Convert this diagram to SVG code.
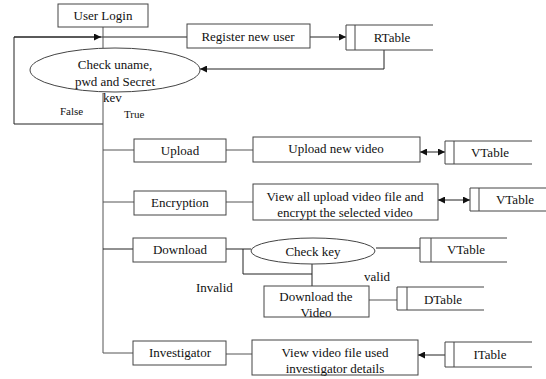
<svg xmlns="http://www.w3.org/2000/svg" width="546" height="379" viewBox="0 0 546 379">
<defs>
<marker id="ah" viewBox="0 0 8 8" refX="8" refY="4" markerWidth="7" markerHeight="7" markerUnits="userSpaceOnUse" orient="auto-start-reverse">
<path d="M0,0 L8,4 L0,8 Z" fill="#111"/>
</marker>
</defs>
<style>
.box{fill:#fff;stroke:#444;stroke-width:1}
.tbl{fill:none;stroke:#444;stroke-width:1}
.ln{fill:none;stroke:#555;stroke-width:1}
.dk{fill:none;stroke:#222;stroke-width:1}
text{font-family:"Liberation Serif","Times New Roman",serif;font-size:13px;fill:#111}
.c{text-anchor:middle}
.s{font-size:11px}
</style>
<g id="connectors">
<path class="dk" d="M14,37 L187,37"/>
<path class="dk" d="M14,37 L101,37" marker-end="url(#ah)"/>
<path class="dk" d="M14,37 L14,124 L103,124"/>
<path class="ln" d="M103,27 L103,48"/>
<path class="ln" d="M103,93 L103,353"/>
<path class="dk" d="M310,37 L346,37" marker-end="url(#ah)"/>
<path class="dk" d="M384,50 L384,69 L200,69" marker-end="url(#ah)"/>
<path class="ln" d="M103,150 L134,150"/>
<path class="ln" d="M226,150 L253,150"/>
<path class="dk" d="M420,152 L445,152" marker-start="url(#ah)" marker-end="url(#ah)"/>
<path class="ln" d="M103,202 L134,202"/>
<path class="ln" d="M226,202 L253,202"/>
<path class="dk" d="M438,200 L470,200" marker-start="url(#ah)" marker-end="url(#ah)"/>
<path class="dk" d="M103,249 L133,249"/>
<path class="dk" d="M226,249 L251,249"/>
<path class="dk" d="M376,248 L420,248"/>
<path class="dk" d="M243,249 L243,274 L312,274"/>
<path class="dk" d="M312,264 L312,286"/>
<path class="ln" d="M369,300 L397,300"/>
<path class="ln" d="M103,353 L133,353"/>
<path class="ln" d="M226,354 L252,354"/>
<path class="dk" d="M445,355 L418,355" marker-end="url(#ah)"/>
</g>
<g id="user-login"><rect class="box" x="58" y="4" width="90" height="23"/><text class="c" x="103" y="20">User Login</text></g>
<g id="check-uname"><ellipse class="box" cx="115" cy="70" rx="85" ry="22"/><text class="c" x="115" y="69">Check uname,</text><text class="c" x="115" y="86">pwd and Secret</text><text x="103" y="102">kev</text></g>
<g id="register"><rect class="box" x="187" y="24" width="123" height="24"/><text class="c" x="248" y="41">Register new user</text></g>
<g id="rtable"><path class="tbl" d="M433,25 L346,25 L346,50 L433,50 M355,25 L355,50"/><text class="c" x="392" y="42">RTable</text></g>
<g id="false-label"><text class="s" x="60" y="115">False</text></g>
<g id="true-label"><text class="s" x="124" y="118">True</text></g>
<g id="upload"><rect class="box" x="134" y="139" width="92" height="23"/><text class="c" x="180" y="155">Upload</text></g>
<g id="upload-new"><rect class="box" x="253" y="137" width="167" height="25"/><text class="c" x="336" y="153">Upload new video</text></g>
<g id="vtable1"><path class="tbl" d="M532,141 L445,141 L445,164 L532,164 M454,141 L454,164"/><text class="c" x="490" y="157">VTable</text></g>
<g id="encryption"><rect class="box" x="134" y="191" width="92" height="24"/><text class="c" x="180" y="207">Encryption</text></g>
<g id="view-all"><rect class="box" x="253" y="184" width="185" height="36"/><text class="c" x="345" y="201">View all upload video file and</text><text class="c" x="345" y="217">encrypt the selected video</text></g>
<g id="vtable2"><path class="tbl" d="M546,188 L470,188 L470,211 L546,211 M479,188 L479,211"/><text class="c" x="515" y="204">VTable</text></g>
<g id="download"><rect class="box" x="133" y="238" width="93" height="24"/><text class="c" x="180" y="254">Download</text></g>
<g id="check-key"><ellipse class="box" cx="313" cy="251" rx="62" ry="13"/><text class="c" x="313" y="256">Check key</text></g>
<g id="vtable3"><path class="tbl" d="M507,238 L420,238 L420,262 L507,262 M431,238 L431,262"/><text class="c" x="466" y="254">VTable</text></g>
<g id="valid-label"><text x="364" y="281">valid</text></g>
<g id="invalid-label"><text x="196" y="292">Invalid</text></g>
<g id="download-video"><rect class="box" x="264" y="286" width="105" height="31"/><text class="c" x="316" y="301">Download the</text><text class="c" x="316" y="317">Video</text></g>
<g id="dtable"><path class="tbl" d="M484,287 L397,287 L397,310 L484,310 M407,287 L407,310"/><text class="c" x="443" y="304">DTable</text></g>
<g id="investigator"><rect class="box" x="133" y="341" width="93" height="24"/><text class="c" x="180" y="357">Investigator</text></g>
<g id="view-video"><rect class="box" x="252" y="340" width="166" height="35"/><text class="c" x="335" y="357">View video file used</text><text class="c" x="335" y="373">investigator details</text></g>
<g id="itable"><path class="tbl" d="M532,342 L445,342 L445,367 L532,367 M454,342 L454,367"/><text class="c" x="490" y="359">ITable</text></g>
</svg>
